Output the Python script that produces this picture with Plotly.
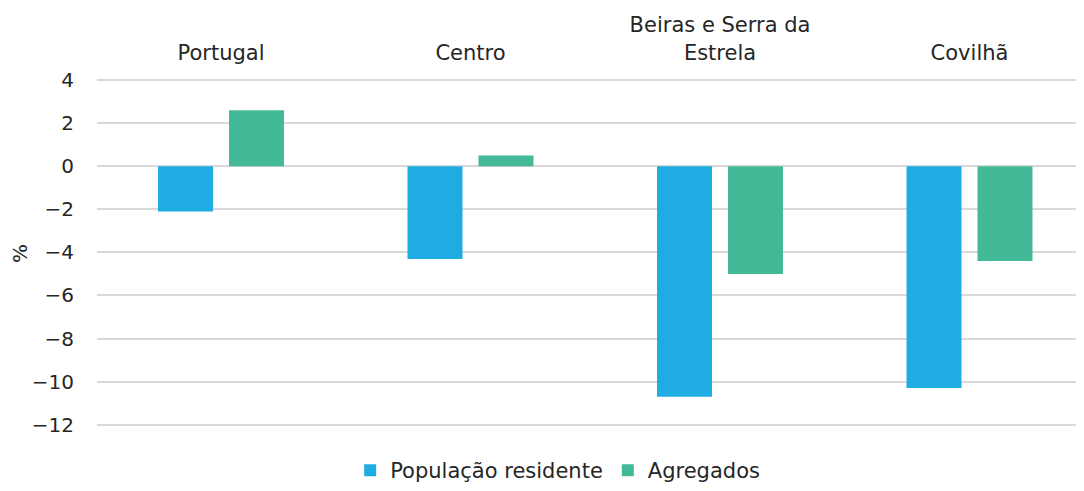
import plotly.graph_objects as go

regioes = ['Portugal', 'Centro', 'Beiras e Serra da<br>Estrela', 'Covilhã']
populacao = [-2.1, -4.3, -10.7, -10.3]
agregados = [2.6, 0.5, -5.0, -4.4]
y_ticks = [4, 2, 0, -2, -4, -6, -8, -10, -12]

fonte = dict(family='DejaVu Sans', size=20, color='#262626')
fonte_cat = dict(family='DejaVu Sans', size=21, color='#262626')

fig = go.Figure()
fig.add_trace(go.Bar(name='População residente', x=regioes, y=populacao,
                     marker_color='#1EACE2', marker_line_width=0))
fig.add_trace(go.Bar(name='Agregados', x=regioes, y=agregados,
                     marker_color='#43B997', marker_line_width=0))

fig.update_layout(
    width=1084, height=491,
    template='plotly_white',
    font=fonte,
    barmode='group',
    bargap=0.431, bargroupgap=0.225,
    margin=dict(l=89, r=0, t=70, b=70),
    plot_bgcolor='white', paper_bgcolor='white',
    xaxis=dict(side='top', range=[-0.497, 3.491], showgrid=False, showline=False,
               ticks='outside', ticklen=9, tickcolor='white', automargin=False,
               tickfont=fonte_cat),
    yaxis=dict(range=[-12.2, 4.1], tickvals=y_ticks, ticktext=[str(v).replace('-', '−') for v in y_ticks],
               gridcolor='#D9D9D9', gridwidth=1.5, zeroline=False, showline=False,
               ticklabelstandoff=22, tickfont=fonte, automargin=False,
               title=dict(text='%', font=fonte, standoff=6)),
    legend=dict(orientation='h', x=0.463, xanchor='center', y=-0.06, yanchor='top',
                font=fonte_cat, itemwidth=30, traceorder='normal'),
    showlegend=True,
)

fig.write_html("out.html")
